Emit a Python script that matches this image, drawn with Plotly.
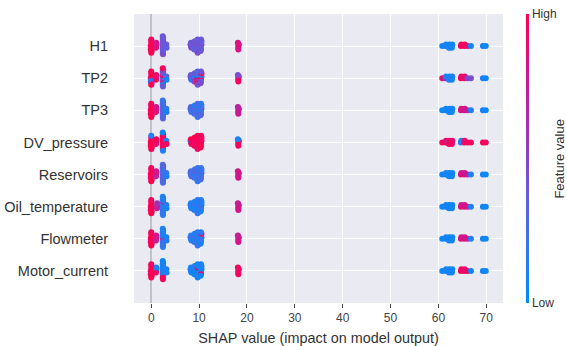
import numpy as np
import plotly.graph_objects as go

features = ["H1", "TP2", "TP3", "DV_pressure", "Reservoirs",
            "Oil_temperature", "Flowmeter", "Motor_current"]

x_ticks = [0, 10, 20, 30, 40, 50, 60, 70]

# SHAP values per feature (one entry per sample)
shap_h1 = [-0.1, 0.0, 0.0, 0.1, -0.1, 0.0, 0.1, 0.0, 0.0,
           1.0, 1.1, 1.0, 1.05,
           2.4, 2.5, 2.45, 2.4, 2.4, 2.5, 2.45, 2.4, 2.4, 2.5, 2.45, 2.4,
           3.1, 3.15, 3.2,
           8.3, 8.2, 8.4, 8.3,
           9.0, 9.1, 8.9, 9.0, 9.0, 9.1,
           9.7, 9.8, 9.6, 9.7, 9.7, 9.8, 9.6, 9.7, 9.7,
           10.4, 10.5, 10.3, 10.4, 10.4, 10.5, 10.3, 10.4,
           18.2, 18.3, 18.2, 18.1, 18.2,
           60.8, 61.5, 61.6, 62.2, 62.3, 62.2, 62.8, 62.9, 62.8,
           64.7, 64.8, 65.4, 65.5, 66.1, 66.8,
           69.3, 69.9]
shap_tp2 = [-0.1, 0.0, 0.0, 0.1, -0.1, 0.0, 0.1, 0.0, 0.0,
            1.0, 1.1, 1.0, 1.05,
            2.4, 2.5, 2.45, 2.4, 2.4, 2.5, 2.45, 2.4, 2.4, 2.5, 2.45, 2.4,
            3.1, 3.15, 3.2,
            8.3, 8.2, 8.4, 8.3,
            9.0, 9.1, 8.9, 9.0, 9.0, 9.1,
            9.7, 9.8, 9.6, 9.7, 9.7, 9.8, 9.6, 9.7, 9.7,
            10.4, 10.5, 10.3, 10.4, 10.4, 10.5, 10.3, 10.4,
            18.2, 18.3, 18.2, 18.1, 18.2,
            60.8, 61.5, 61.6, 62.2, 62.3, 62.2, 62.8, 62.9, 62.8,
            64.7, 64.8, 65.4, 65.5, 66.1, 66.8,
            69.3, 69.9]
shap_tp3 = [-0.1, 0.0, 0.0, 0.1, -0.1, 0.0, 0.1, 0.0, 0.0,
            1.0, 1.1, 1.0, 1.05,
            2.4, 2.5, 2.45, 2.4, 2.4, 2.5, 2.45, 2.4, 2.4, 2.5, 2.45, 2.4,
            3.1, 3.15, 3.2,
            8.3, 8.2, 8.4, 8.3,
            9.0, 9.1, 8.9, 9.0, 9.0, 9.1,
            9.7, 9.8, 9.6, 9.7, 9.7, 9.8, 9.6, 9.7, 9.7,
            10.4, 10.5, 10.3, 10.4, 10.4, 10.5, 10.3, 10.4,
            18.2, 18.3, 18.2, 18.1, 18.2,
            60.8, 61.5, 61.6, 62.2, 62.3, 62.2, 62.8, 62.9, 62.8,
            64.7, 64.8, 65.4, 65.5, 66.1, 66.8,
            69.3, 69.9]
shap_dv = [-0.1, 0.0, 0.0, 0.1, -0.1, 0.0, 0.1, 0.0, 0.0,
           1.0, 1.1, 1.0, 1.05,
           2.4, 2.5, 2.45, 2.4, 2.4, 2.5, 2.45, 2.4, 2.4, 2.5, 2.45, 2.4,
           3.1, 3.15, 3.2,
           8.3, 8.2, 8.4, 8.3,
           9.0, 9.1, 8.9, 9.0, 9.0, 9.1,
           9.7, 9.8, 9.6, 9.7, 9.7, 9.8, 9.6, 9.7, 9.7,
           10.4, 10.5, 10.3, 10.4, 10.4, 10.5, 10.3, 10.4,
           18.2, 18.3, 18.2, 18.1, 18.2,
           60.8, 61.5, 61.6, 62.2, 62.3, 62.2, 62.8, 62.9, 62.8,
           64.7, 64.8, 65.4, 65.5, 66.1, 66.8,
           69.3, 69.9]
shap_res = [-0.1, 0.0, 0.0, 0.1, -0.1, 0.0, 0.1, 0.0, 0.0,
            1.0, 1.1, 1.0, 1.05,
            2.4, 2.5, 2.45, 2.4, 2.4, 2.5, 2.45, 2.4, 2.4, 2.5, 2.45, 2.4,
            3.1, 3.15, 3.2,
            8.3, 8.2, 8.4, 8.3,
            9.0, 9.1, 8.9, 9.0, 9.0, 9.1,
            9.7, 9.8, 9.6, 9.7, 9.7, 9.8, 9.6, 9.7, 9.7,
            10.4, 10.5, 10.3, 10.4, 10.4, 10.5, 10.3, 10.4,
            18.2, 18.3, 18.2, 18.1, 18.2,
            60.8, 61.5, 61.6, 62.2, 62.3, 62.2, 62.8, 62.9, 62.8,
            64.7, 64.8, 65.4, 65.5, 66.1, 66.8,
            69.3, 69.9]
shap_oil = [-0.1, 0.0, 0.0, 0.1, -0.1, 0.0, 0.1, 0.0, 0.0,
            1.2, 1.3, 1.2, 1.25,
            2.4, 2.5, 2.45, 2.4, 2.4, 2.5, 2.45, 2.4, 2.4, 2.5, 2.45, 2.4,
            3.1, 3.15, 3.2,
            8.3, 8.2, 8.4, 8.3,
            9.0, 9.1, 8.9, 9.0, 9.0, 9.1,
            9.7, 9.8, 9.6, 9.7, 9.7, 9.8, 9.6, 9.7, 9.7,
            10.4, 10.5, 10.3, 10.4, 10.4, 10.5, 10.3, 10.4,
            18.2, 18.3, 18.2, 18.1, 18.2,
            60.8, 61.5, 61.6, 62.2, 62.3, 62.2, 62.8, 62.9, 62.8,
            64.7, 64.8, 65.4, 65.5, 66.1, 66.8,
            69.3, 69.9]
shap_flow = [-0.1, 0.0, 0.0, 0.1, -0.1, 0.0, 0.1, 0.0, 0.0,
             1.0, 1.1, 1.0, 1.05,
             2.4, 2.5, 2.45, 2.4, 2.4, 2.5, 2.45, 2.4, 2.4, 2.5, 2.45, 2.4,
             3.1, 3.15, 3.2,
             8.3, 8.2, 8.4, 8.3,
             9.0, 9.1, 8.9, 9.0, 9.0, 9.1,
             9.7, 9.8, 9.6, 9.7, 9.7, 9.8, 9.6, 9.7, 9.7,
             10.4, 10.5, 10.3, 10.4, 10.4, 10.5, 10.3, 10.4,
             18.2, 18.3, 18.2, 18.1, 18.2,
             60.8, 61.5, 61.6, 62.2, 62.3, 62.2, 62.8, 62.9, 62.8,
             64.7, 64.8, 65.4, 65.5, 66.1, 66.8,
             69.3, 69.9]
shap_motor = [-0.1, 0.0, 0.0, 0.1, -0.1, 0.0, 0.1, 0.0, 0.0,
              1.0, 1.1, 1.0, 1.05,
              2.4, 2.5, 2.45, 2.4, 2.4, 2.5, 2.45, 2.4, 2.4, 2.5, 2.45, 2.4,
              3.1, 3.15, 3.2,
              8.3, 8.2, 8.4, 8.3,
              9.0, 9.1, 8.9, 9.0, 9.0, 9.1,
              9.7, 9.8, 9.6, 9.7, 9.7, 9.8, 9.6, 9.7, 9.7,
              10.4, 10.5, 10.3, 10.4, 10.4, 10.5, 10.3, 10.4,
              18.2, 18.3, 18.2, 18.1, 18.2,
              60.8, 61.5, 61.6, 62.2, 62.3, 62.2, 62.8, 62.9, 62.8,
              64.7, 64.8, 65.4, 65.5, 66.1, 66.8,
              69.3, 69.9]

# normalised feature values (0 = low, 1 = high), same sample order
fv_h1 = [1, .95, 1, 1, .95, 1, 1, .95, 1,
         .85, .9, .85, .8,
         .4, .45, .4, .35, .4, .45, .4, .4, .35, .4, .45, .4,
         .35, .4, .35,
         .4, .4, .45, .4,
         .4, .4, .35, .45, .4, .4,
         .4, .4, .35, .45, .4, .4, .35, .4, .45,
         .35, .4, .4, .45, .4, .35, .4, .4,
         .85, .8, .9, .85, .8,
         .05, .05, .1, .05, .05, .1, .05, .05, .05,
         .95, .95, .95, .95, .9, .05,
         .05, .05]
fv_tp2 = [1, 1, .5, 1, .1, 1, .45, 1, 1,
          .9, .5, .95, .9,
          .4, .1, .45, .95, .4, .35, .9, .4, .1, .45, .4, .95,
          .1, .3, .1,
          .95, .4, .1, .4,
          .1, .95, .4, .1, .45, .4,
          .1, .4, .95, .1, .45, .4, .95, .3, .4,
          .95, .4, .95, .1, .4, .95, .45, .4,
          .95, .5, .9, .45, .95,
          .85, .6, .1, .1, .05, .1, .5, .1, .05,
          .95, .9, .95, .9, .5, .45,
          .1, .05]
fv_tp3 = [1, .95, 1, 1, .95, 1, 1, .95, 1,
          .85, .9, .85, .8,
          .3, .35, .25, .2, .3, .4, .3, .15, .3, .35, .3, .2,
          .1, .15, .1,
          .3, .25, .2, .3,
          .25, .3, .2, .35, .25, .1,
          .25, .3, .2, .25, .35, .1, .25, .3, .2,
          .3, .25, .1, .3, .25, .2, .3, .15,
          .75, .8, .75, .7, .75,
          .05, .05, .05, .05, .05, .05, .05, .05, .05,
          .8, .85, .8, .8, .75, .1,
          .05, .05]
fv_dv = [1, 1, 1, 1, 1, 1, 1, .1, 1,
         .95, .95, .9, .95,
         1, .95, 1, 1, .95, 1, .9, 1, 1, .95, .1, .05,
         .95, .1, .95,
         .95, .1, .95, 1,
         .95, .95, 1, .9, .95, 1,
         1, .95, .9, 1, .95, 1, .95, 1, .9,
         1, .95, 1, .9, 1, .95, 1, .95,
         .95, .9, 1, .1, .95,
         .95, .95, .9, .1, .95, .95, .95, .9, .95,
         .15, .1, .95, .9, .95, .95,
         .95, .95]
fv_res = [1, .95, 1, 1, .95, 1, 1, .95, 1,
          .8, .85, .7, .8,
          .3, .25, .35, .2, .3, .25, .3, .2, .35, .3, .25, .3,
          .15, .2, .1,
          .25, .2, .3, .25,
          .2, .25, .15, .3, .2, .25,
          .2, .25, .15, .3, .2, .1, .25, .2, .15,
          .25, .2, .15, .3, .2, .15, .25, .2,
          .8, .8, .75, .8, .8,
          .05, .05, .05, .05, .05, .05, .05, .05, .05,
          .85, .8, .85, .8, .75, .1,
          .05, .05]
fv_oil = [1, .95, 1, 1, .95, 1, 1, .95, 1,
          .7, .65, .75, .6,
          .15, .1, .2, .1, .15, .6, .1, .15, .2, .1, .15, .1,
          .1, .1, .1,
          .1, .15, .1, .1,
          .1, .15, .1, .2, .1, .1,
          .1, .15, .1, .2, .1, .15, .1, .1, .2,
          .95, .1, .15, .1, .2, .1, .1, .15,
          .8, .75, .8, .75, .8,
          .05, .05, .05, .05, .05, .05, .05, .05, .05,
          .85, .8, .85, .8, .8, .1,
          .05, .05]
fv_flow = [1, .95, 1, 1, .95, 1, 1, .95, 1,
           .8, .85, .75, .8,
           .1, .15, .9, .1, .2, .1, .15, .1, .2, .1, .15, .1,
           .9, .1, .15,
           .15, .2, .1, .15,
           .15, .2, .1, .25, .15, .1,
           .15, .1, .2, .15, .1, .25, .15, .1, .2,
           .15, .2, .1, .15, .2, .9, .1, .15,
           .8, .75, .8, .75, .8,
           .05, .05, .05, .05, .05, .05, .05, .05, .05,
           .85, .8, .85, .8, .8, .1,
           .05, .05]
fv_motor = [1, .95, 1, 1, .95, 1, 1, .95, 1,
            .9, .1, .95, .1,
            .1, .05, .1, .1, .05, .1, .1, .05, .95, .1, .95, .05,
            .1, .1, .1,
            .05, .1, .05, .1,
            .05, .1, .05, .1, .05, .1,
            .05, .1, .05, .95, .1, .05, .1, .05, .1,
            .1, .05, .1, .05, .95, .1, .05, .1,
            .95, .95, .9, .95, .95,
            .05, .05, .05, .05, .05, .05, .05, .05, .05,
            .95, .95, .95, .9, .95, .05,
            .05, .05]

shap_cols = [shap_h1, shap_tp2, shap_tp3, shap_dv, shap_res, shap_oil, shap_flow, shap_motor]
fv_cols = [fv_h1, fv_tp2, fv_tp3, fv_dv, fv_res, fv_oil, fv_flow, fv_motor]


def swarm_offsets(vals, nbins=100, row_height=0.4):
    v = np.asarray(vals, dtype=float)
    quant = np.round(nbins * (v - v.min()) / (v.max() - v.min() + 1e-8))
    inds = np.argsort(quant, kind="stable")
    ys = np.zeros(len(v))
    layer = 0
    last = None
    for i in inds:
        if quant[i] != last:
            layer = 0
        ys[i] = np.ceil(layer / 2) * ((layer % 2) * 2 - 1)
        layer += 1
        last = quant[i]
    ys *= 0.9 * (row_height / np.max(ys + 1))
    return ys


n = len(features)
all_x, all_y, all_c = [], [], []
for k, (sv, fv) in enumerate(zip(shap_cols, fv_cols)):
    pos = n - 1 - k
    offs = swarm_offsets(sv)
    all_x += list(sv)
    all_y += list(pos + offs)
    all_c += list(fv)

colorscale = [[0.0, "#008bfb"], [0.2, "#3a74ec"], [0.4, "#6a58d8"],
              [0.5, "#8544c4"], [0.6, "#a032b0"], [0.8, "#d0168a"],
              [1.0, "#ff0051"]]

fig = go.Figure()
fig.add_trace(go.Scatter(
    x=all_x, y=all_y, mode="markers",
    marker=dict(size=6, color=all_c, colorscale=colorscale, cmin=0, cmax=1,
                line=dict(width=0), opacity=1,
                showscale=True,
                colorbar=dict(thickness=3, len=1, lenmode="fraction",
                              y=0.5, yanchor="middle", ypad=0,
                              x=1.062, xanchor="left", xpad=0,
                              outlinewidth=0, ticks="",
                              tickvals=[0, 1], ticktext=["Low", "High"],
                              tickfont=dict(size=12, color="#333333"))),
    hoverinfo="skip", showlegend=False))

font_family = "Liberation Sans, Arial, Helvetica, sans-serif"
fig.update_layout(
    width=567, height=346,
    margin=dict(l=134, r=64, t=14, b=43, autoexpand=False),
    paper_bgcolor="white", plot_bgcolor="#eaeaf2",
    font=dict(family=font_family, color="#333333"),
    xaxis=dict(range=[-3.6, 73.5], tickvals=x_ticks,
               showgrid=True, gridcolor="white", gridwidth=1,
               zeroline=True, zerolinecolor="#c2c2c6", zerolinewidth=1.5,
               ticks="outside", ticklen=4, tickcolor="#444444", tickwidth=1,
               tickfont=dict(size=12, color="#444444"),
               showline=False, automargin=False,
               title=dict(text="SHAP value (impact on model output)",
                          font=dict(size=14.4, color="#333333"), standoff=8)),
    yaxis=dict(range=[-1, n], tickvals=list(range(n)),
               ticktext=features[::-1],
               showgrid=True, gridcolor="white", gridwidth=1,
               zeroline=False, showline=False, automargin=False,
               ticks="outside", ticklen=22, tickcolor="rgba(0,0,0,0)",
               tickfont=dict(size=14.5, color="#333333")),
    annotations=[dict(text="Feature value", xref="paper", yref="paper",
                      x=1.152, y=0.5, xanchor="center", yanchor="middle",
                      textangle=-90, showarrow=False,
                      font=dict(size=13, color="#333333"))],
)

fig.write_html("out.html", config={"displayModeBar": False},
               post_script="document.body.style.margin='0';"
                           "document.body.style.padding='0';")
